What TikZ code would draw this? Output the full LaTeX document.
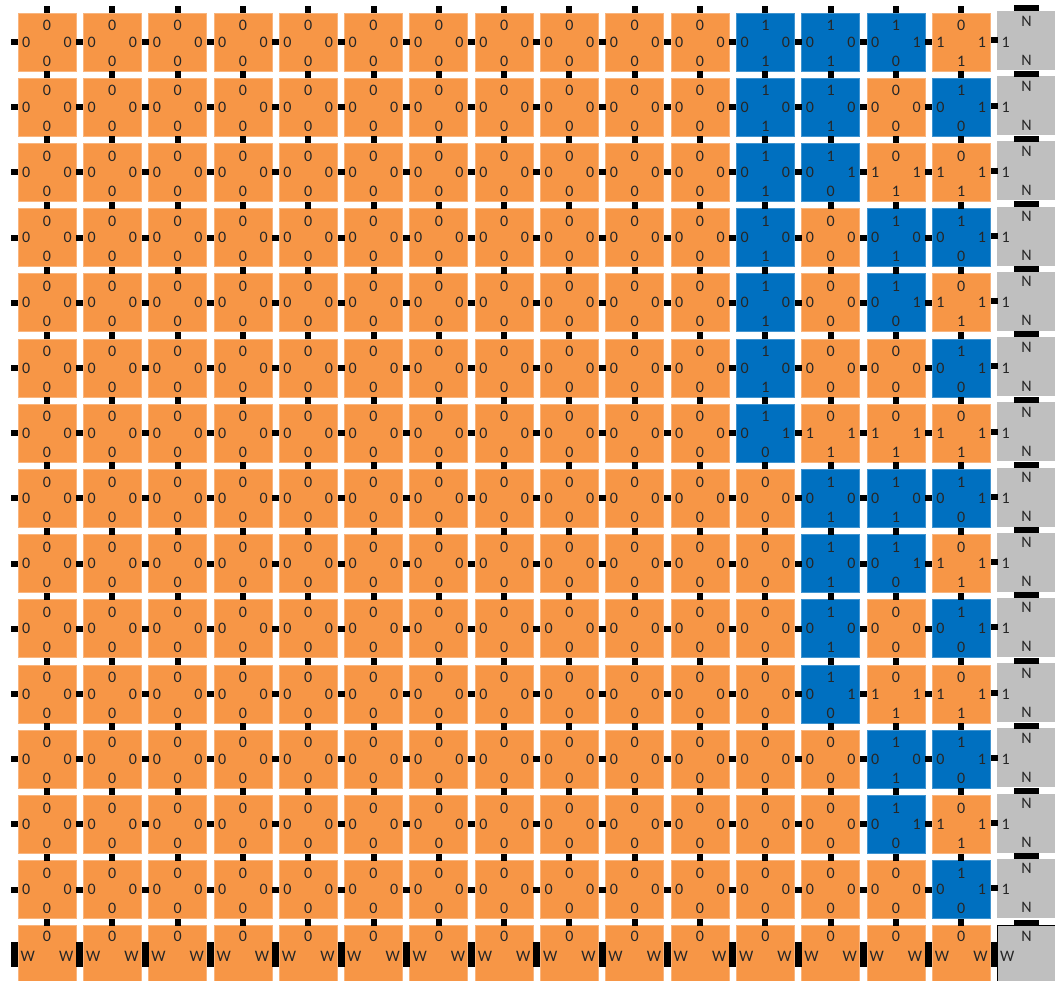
\documentclass[tikz,border=0pt]{standalone}
\usepackage{fontspec}
\setmainfont{Carlito}
\usetikzlibrary{calc}
\definecolor{tileOrange}{HTML}{F79646}
\definecolor{tileBlue}{HTML}{0070C0}
\definecolor{tileGrey}{HTML}{BFBFBF}
\definecolor{tileInk}{HTML}{262626}
% four labels of a tile: top, left, right, bottom
\newcommand{\tlab}[5]{%
  \node[lab] (#1-n) at ($(#1.north)+(0,12.5)$) {#2};
  \node[lab, anchor=west] (#1-w) at ($(#1.west)+(4,0)$) {#3};
  \node[lab, anchor=east] (#1-e) at ($(#1.east)+(-4,0)$) {#4};
  \node[lab] (#1-s) at ($(#1.south)+(0,-10)$) {#5};}
% one counter tile: column, row, kind
\newcommand{\tilecell}[3]{%
  \ifcase#3\relax
    \node[ot] (t-#1-#2) at ({47+65.3*#1},{42+65.2*#2}) {};
    \tlab{t-#1-#2}{0}{0}{0}{0}%
  \or
    \node[ot] (t-#1-#2) at ({47+65.3*#1},{42+65.2*#2}) {};
    \tlab{t-#1-#2}{0}{1}{1}{1}%
  \or
    \node[bt] (t-#1-#2) at ({47+65.3*#1},{42+65.2*#2}) {};
    \tlab{t-#1-#2}{1}{0}{0}{1}%
  \or
    \node[bt] (t-#1-#2) at ({47+65.3*#1},{42+65.2*#2}) {};
    \tlab{t-#1-#2}{1}{0}{1}{0}%
  \fi}
\begin{document}
\begin{tikzpicture}[x=1pt, y=-1pt,
    tile/.style={minimum width=58pt, minimum height=58pt, inner sep=0pt,
      outer sep=0pt, line width=0.8pt},
    ot/.style={tile, fill=tileOrange, draw=tileOrange!70!white},
    bt/.style={tile, fill=tileBlue, draw=tileBlue!75!white},
    gt/.style={tile, fill=tileGrey, draw=tileGrey},
    seed/.style={tile, fill=tileGrey, draw=black, line width=1pt},
    lab/.style={font=\fontsize{16}{16}\selectfont, color=tileInk, inner sep=0pt},
    glue/.style={fill=black}]
  \useasboundingbox (0,0) rectangle (1055,981);
  % counter rows: kinds of the last four columns
  \foreach \r/\ka/\kb/\kc/\kd in {0/2/2/3/1, 1/2/2/0/3, 2/2/3/1/1, 3/2/0/2/3,
      4/2/0/3/1, 5/2/0/0/3, 6/3/1/1/1, 7/0/2/2/3, 8/0/2/3/1, 9/0/2/0/3,
      10/0/3/1/1, 11/0/0/2/3, 12/0/0/3/1, 13/0/0/0/3} {
    \foreach \c in {0,...,10} {\tilecell{\c}{\r}{0}}
    \tilecell{11}{\r}{\ka}
    \tilecell{12}{\r}{\kb}
    \tilecell{13}{\r}{\kc}
    \tilecell{14}{\r}{\kd}
    % border column
    \node[gt] (t-15-\r) at ({47+65.3*15},{40.5+65.2*\r}) {};
    \node[lab] (t-15-\r-n) at ($(t-15-\r.north)+(0,9.5)$) {N};
    \node[lab, anchor=west] (t-15-\r-w) at ($(t-15-\r.west)+(4,1.5)$) {1};
    \node[lab] (t-15-\r-s) at ($(t-15-\r.south)+(0,-9.5)$) {N};
  }
  % bottom row
  \foreach \c in {0,...,14} {
    \node[ot] (t-\c-14) at ({47+65.3*\c},{42+65.2*14}) {};
    \node[lab] (t-\c-14-n) at ($(t-\c-14.north)+(0,11)$) {0};
    \node[lab, anchor=west] (t-\c-14-w) at ($(t-\c-14.west)+(2.5,2)$) {W};
    \node[lab, anchor=east] (t-\c-14-e) at ($(t-\c-14.east)+(-2.5,2)$) {W};
  }
  \node[seed] (t-15-14) at ({47+65.3*15},{42+65.2*14}) {};
  \node[lab] (t-15-14-n) at ($(t-15-14.north)+(0,10.5)$) {N};
  \node[lab, anchor=west] (t-15-14-w) at ($(t-15-14.west)+(2.5,2)$) {W};
  % glue between columns
  \foreach \r in {0,...,13}
    \foreach \c in {0,...,15}
      \fill[glue] ($(t-\c-\r.west)+(-7,-3)$) rectangle ($(t-\c-\r.west)+(0,3)$);
  % glue between rows
  \foreach \c in {0,...,14}
    \foreach \r in {0,...,14}
      \fill[glue] ($(t-\c-\r.north)+(-3,-7)$) rectangle ($(t-\c-\r.north)+(3,0)$);
  % wide bars on the border column
  \foreach \r in {0,...,14}
    \fill[glue] ($(t-15-\r.north)+(-12.5,-6)$) rectangle ($(t-15-\r.north)+(12.5,0)$);
  % tall bars on the bottom row
  \foreach \c in {0,...,15}
    \fill[glue] ($(t-\c-14.west)+(-7,-13)$) rectangle ($(t-\c-14.west)+(0,12)$);
\end{tikzpicture}
\end{document}
